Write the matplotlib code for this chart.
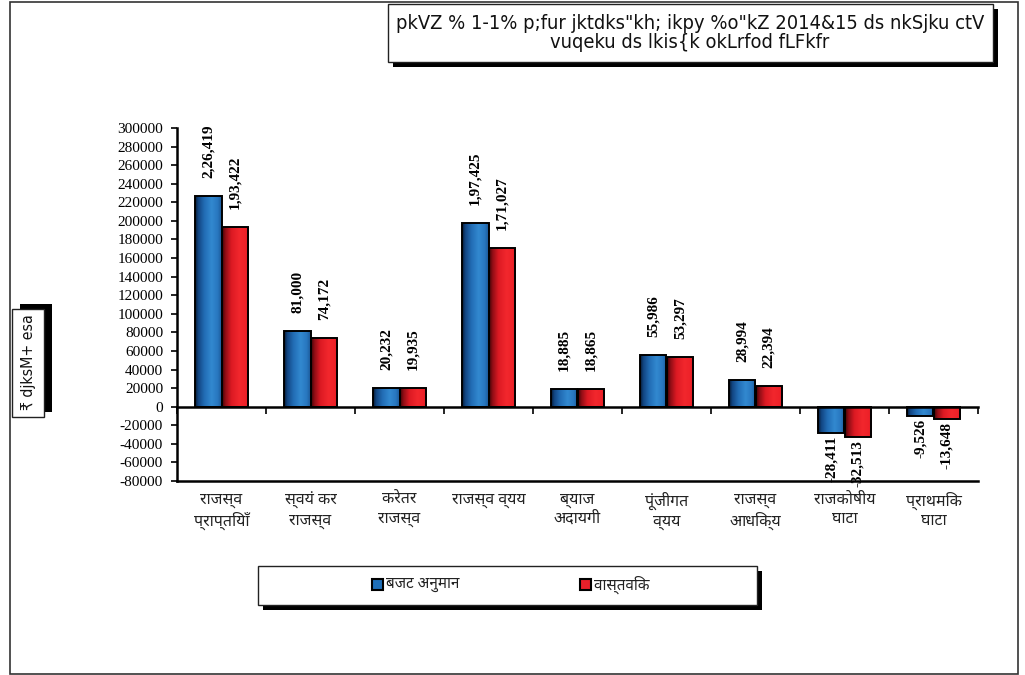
import numpy as np
import matplotlib
matplotlib.use("Agg")
import matplotlib.pyplot as plt
from matplotlib import font_manager as fm
from matplotlib.ft2font import FT2Font
from matplotlib.patches import Rectangle
from matplotlib.colors import LinearSegmentedColormap
import matplotlib.transforms as mtransforms

# ---------------- data ----------------
categories = [
    "राजस्व\nप्राप्तियाँ",
    "स्वयं कर\nराजस्व",
    "करेतर\nराजस्व",
    "राजस्व व्यय",
    "ब्याज\nअदायगी",
    "पूंजीगत\nव्यय",
    "राजस्व\nआधिक्य",
    "राजकोषीय\nघाटा",
    "प्राथमिक\nघाटा",
]
budget_estimate = [226419, 81000, 20232, 197425, 18885, 55986, 28994, -28411, -9526]
actual = [193422, 74172, 19935, 171027, 18865, 53297, 22394, -32513, -13648]
series_names = ["बजट अनुमान", "वास्तविक"]
y_ticks = list(range(-80000, 300001, 20000))

title_lines = 'pkVZ % 1-1% p;fur jktdks"kh; ikpy %o"kZ 2014&15 ds nkSjku ctV\nvuqeku ds lkis{k okLrfod fLFkfr'
y_label = "₹ djksM+ esa"


# ---------------- fonts ----------------
def family_with(ch, preferred=()):
    names = {f.name for f in fm.fontManager.ttflist}
    for n in preferred:
        if n in names:
            return n
    for f in fm.fontManager.ttflist:
        try:
            if ord(ch) in FT2Font(f.fname).get_charmap():
                return f.name
        except Exception:
            continue
    return None


deva = family_with("क", ("Noto Sans Devanagari", "Lohit Devanagari", "Mangal",
                         "FreeSans", "Gargi", "Samanata"))
deva_family = [deva, "DejaVu Sans"] if deva else ["DejaVu Sans"]
serif = "Liberation Serif"
names_available = {f.name for f in fm.fontManager.ttflist}
narrow = "Liberation Sans Narrow" if "Liberation Sans Narrow" in names_available else "DejaVu Sans"


def indian_format(v):
    s = str(abs(int(v)))
    if len(s) > 3:
        head, tail = s[:-3], s[-3:]
        groups = []
        while len(head) > 2:
            groups.insert(0, head[-2:])
            head = head[:-2]
        if head:
            groups.insert(0, head)
        s = ",".join(groups + [tail])
    return ("-" if v < 0 else "") + s


# ---------------- figure ----------------
W, H = 1025, 675
fig = plt.figure(figsize=(W / 100, H / 100), dpi=100)
fig.patch.set_facecolor("white")
renderer = fig.canvas.get_renderer()


def fx(px):
    return px / W


def fy(py):
    return 1 - py / H


def fit_text(t, max_w=None, max_h=None):
    """Shrink a text until its rendered box fits the given pixel size."""
    bb = t.get_window_extent(renderer=renderer)
    scale = 1.0
    if max_w:
        scale = min(scale, max_w / bb.width)
    if max_h:
        scale = min(scale, max_h / bb.height)
    t.set_fontsize(t.get_fontsize() * scale)


def shadow_box(x0, y0, x1, y1, dx=5, dy=5):
    fig.patches.append(Rectangle((fx(x0 + dx), fy(y1 + dy)), fx(x1 - x0), (y1 - y0) / H,
                                 transform=fig.transFigure, facecolor="black",
                                 edgecolor="none", zorder=1))
    fig.patches.append(Rectangle((fx(x0), fy(y1)), fx(x1 - x0), (y1 - y0) / H,
                                 transform=fig.transFigure, facecolor="white",
                                 edgecolor="#222222", linewidth=1.0, zorder=2))


# outer frame
fig.patches.append(Rectangle((fx(10), fy(674)), fx(1008), 672 / H, transform=fig.transFigure,
                             facecolor="none", edgecolor="#333333", linewidth=1.2, zorder=0))

ax = fig.add_axes([fx(177), fy(481), fx(978 - 177), (481 - 128) / H])
n = len(categories)
x = np.arange(n)
width = 0.30

blue_cmap = LinearSegmentedColormap.from_list("blue_bar", [
    (0.0, "#061a33"), (0.12, "#124683"), (0.35, "#226db5"),
    (0.62, "#3289d0"), (0.85, "#2877bf"), (1.0, "#1b5896")])
red_cmap = LinearSegmentedColormap.from_list("red_bar", [
    (0.0, "#3d0305"), (0.12, "#8e0d15"), (0.35, "#dc1a23"),
    (0.65, "#f2272d"), (0.88, "#ee2229"), (1.0, "#d91c24")])

grad = np.linspace(0, 1, 64).reshape(1, -1)

for vals, off, base, cmap in ((budget_estimate, -width / 2, "#2a79c2", blue_cmap),
                              (actual, width / 2, "#e8202a", red_cmap)):
    bars = ax.bar(x + off, vals, width, color=base, edgecolor="black",
                  linewidth=1.4, zorder=4)
    for b, v in zip(bars, vals):
        x0 = b.get_x()
        y0, y1 = sorted((0, b.get_height()))
        im = ax.imshow(grad, cmap=cmap, aspect="auto", extent=(x0, x0 + width, y0, y1),
                       zorder=3, interpolation="bilinear")
        im.set_clip_path(b)
        b.set_facecolor("none")
        xc = x0 + width / 2
        if v >= 0:
            ax.annotate(indian_format(v), (xc, v), xytext=(0, 13), textcoords="offset points",
                        rotation=90, ha="center", va="bottom", fontsize=11,
                        fontweight="bold", family=serif, zorder=6)
        else:
            ax.annotate(indian_format(v), (xc, v), xytext=(0, -2), textcoords="offset points",
                        rotation=90, ha="center", va="top", fontsize=11,
                        fontweight="bold", family=serif, zorder=6, annotation_clip=False)

ax.set_xlim(-0.5, n - 0.5)
ax.set_ylim(y_ticks[0], y_ticks[-1])
ax.set_yticks(y_ticks)
ax.set_yticklabels([str(t) for t in y_ticks], family=serif, fontsize=11)
ax.tick_params(axis="y", direction="out", length=4, width=1.2, pad=6)

# category axis crossing at zero, ticks between groups
ax.spines["bottom"].set_position(("data", 0))
ax.spines["bottom"].set_linewidth(1.8)
ax.spines["bottom"].set_zorder(5)
ax.set_xticks(np.arange(n + 1) - 0.5)
ax.set_xticklabels([])
ax.tick_params(axis="x", direction="out", length=5, width=1.2)
ax.spines["left"].set_linewidth(1.8)
ax.spines["top"].set_visible(False)
ax.spines["right"].set_visible(False)
ax.axhline(y_ticks[0], color="black", linewidth=1.8, clip_on=False, zorder=5)

trans = mtransforms.blended_transform_factory(ax.transData, fig.transFigure)
for i, c in enumerate(categories):
    ax.text(i, fy(492), c, transform=trans, ha="center", va="top", fontsize=11.5,
            family=deva_family, linespacing=1.25, color="#222222")

# title box
shadow_box(388, 4, 993, 62)
title = fig.text(fx(690), fy(33), title_lines, ha="center", va="center", fontsize=15.5,
                 family=narrow, fontstretch="condensed", linespacing=1.0, zorder=3,
                 color="#111111")
fit_text(title, max_w=590)

# y-axis label box (shadow to the upper right)
fig.patches.append(Rectangle((fx(20), fy(412)), fx(32), 108 / H, transform=fig.transFigure,
                             facecolor="black", edgecolor="none", zorder=1))
fig.patches.append(Rectangle((fx(12), fy(417)), fx(32), 108 / H, transform=fig.transFigure,
                             facecolor="white", edgecolor="#222222", linewidth=1.0, zorder=2))
ylab = fig.text(fx(28), fy(362), y_label, rotation=90, ha="center", va="center", fontsize=14,
                family=[narrow, "DejaVu Sans"], fontstretch="condensed", zorder=3,
                color="#111111")
fit_text(ylab, max_h=96)

# legend box
shadow_box(258, 566, 757, 605)
for px, name, col in ((372, series_names[0], "#1f6fb8"), (580, series_names[1], "#e8202a")):
    fig.patches.append(Rectangle((fx(px), fy(590)), fx(11), 11 / H, transform=fig.transFigure,
                                 facecolor=col, edgecolor="black", linewidth=1.5, zorder=3))
    fig.text(fx(px + 14), fy(585), name, ha="left", va="center", fontsize=11,
             family=deva_family, zorder=3, color="#222222")

fig.savefig("out.png", dpi=100, facecolor="white")
